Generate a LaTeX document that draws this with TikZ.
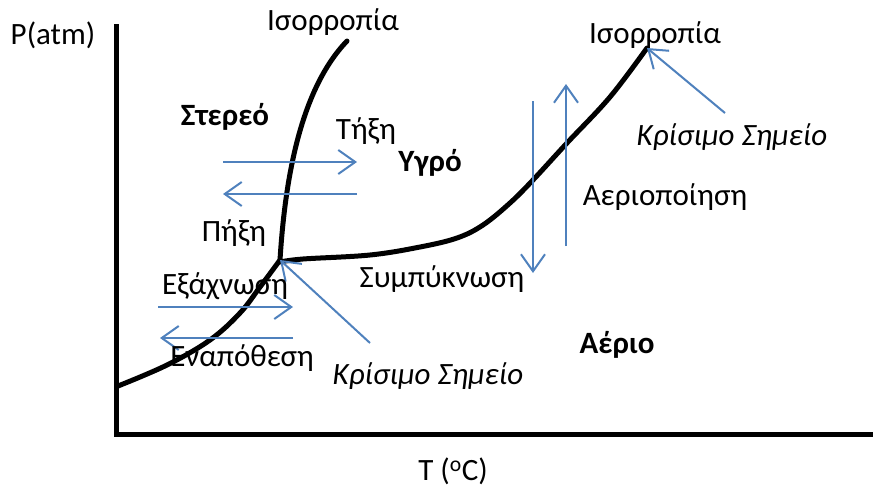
\documentclass[tikz,border=0pt]{standalone}
\usepackage{fontspec}
\setmainfont{Carlito}
\usetikzlibrary{arrows.meta}
\definecolor{arrblue}{RGB}{79,129,189}
\begin{document}
\begin{tikzpicture}[x=1pt,y=-1pt,
  txt/.style={inner sep=0pt,font=\fontsize{31}{36}\selectfont},
  btxt/.style={txt,font=\fontsize{31}{36}\selectfont\bfseries},
  itxt/.style={txt,font=\fontsize{31}{36}\selectfont\itshape},
  curve/.style={line width=5pt,line cap=round},
  axis/.style={line width=5pt},
  barrow/.style={draw=arrblue,line width=2pt,-{Straight Barb[length=17pt,width=24pt,line width=2pt]}}]
\useasboundingbox (0,0) rectangle (873,488);
% axes
\coordinate (ytop) at (116,24);
\coordinate (orig) at (116,434);
\coordinate (xend) at (873,434);
\draw[axis] (ytop) -- (orig) -- (xend);
% curves
\coordinate (tp) at (280,260);
\coordinate (cp) at (647,48);
\coordinate (sltop) at (347,41);
\coordinate (sgbot) at (118,386);
\draw[curve] (tp) .. controls (285,180) and (300,90) .. (sltop);
\draw[curve] plot[smooth,tension=0.6] coordinates {(118,386) (167,365) (210,340) (240,313) (260,287) (280,260)};
\draw[curve] plot[smooth,tension=0.6] coordinates {(280,262) (303,259) (370,255) (420,247) (457,238) (483,225) (510,203) (533,180) (567,143) (610,97) (647,48)};
% arrow endpoints
\coordinate (a1s) at (223,162); \coordinate (a1e) at (357,162);
\coordinate (a2s) at (357,194); \coordinate (a2e) at (223,194);
\coordinate (a3s) at (158,307); \coordinate (a3e) at (293,307);
\coordinate (a4s) at (293,338); \coordinate (a4e) at (160,338);
\coordinate (a5s) at (370,343);
\coordinate (a6s) at (533,101); \coordinate (a6e) at (533,273);
\coordinate (a7s) at (566,246); \coordinate (a7e) at (566,84);
\coordinate (a8s) at (725,113);
\draw[barrow] (a1s) -- (a1e);
\draw[barrow] (a2s) -- (a2e);
\draw[barrow] (a3s) -- (a3e);
\draw[barrow] (a4s) -- (a4e);
\draw[barrow] (a5s) -- (tp);
\draw[barrow] (a6s) -- (a6e);
\draw[barrow] (a7s) -- (a7e);
\draw[barrow] (a8s) -- (cp);
% labels
\node[txt] (pl) at (53,35) {P(atm)};
\node[txt] (tl) at (453,471) {T (\textsuperscript{o}C)};
\node[txt] (is1) at (333,22) {Ισορροπία};
\node[txt] (is2) at (655,35) {Ισορροπία};
\node[btxt] (st) at (225,117) {Στερεό};
\node[txt] (tix) at (366,131) {Τήξη};
\node[btxt] (yg) at (430,163) {Υγρό};
\node[txt] (pix) at (234,233) {Πήξη};
\node[txt] (ex) at (225,286) {Εξάχνωση};
\node[txt] (en) at (242,358) {Εναπόθεση};
\node[itxt] (kr1) at (428,376) {Κρίσιμο Σημείο};
\node[txt] (sy) at (442,279) {Συμπύκνωση};
\node[btxt] (ae) at (617,345) {Αέριο};
\node[txt] (aer) at (665,197) {Αεριοποίηση};
\node[itxt] (kr2) at (732,137) {Κρίσιμο Σημείο};
\end{tikzpicture}
\end{document}
